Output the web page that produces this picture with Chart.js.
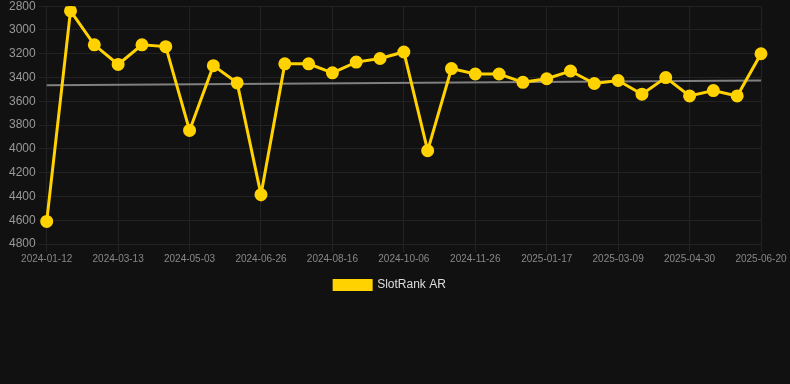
<!DOCTYPE html>
<html>
<head>
<meta charset="utf-8">
<script src="https://cdn.jsdelivr.net/npm/chart.js@4/dist/chart.umd.min.js"></script>
<style>
  html, body { margin: 0; padding: 0; background: #111111; overflow: hidden; }
  #wrap { width: 790px; height: 305px; margin-top: -4px; }
</style>
</head>
<body>
<div id="wrap"><canvas id="rankChart"></canvas></div>
<script>
const dates = [
  "2024-01-12", "2024-02-01", "2024-02-21", "2024-03-13", "2024-03-30", "2024-04-16",
  "2024-05-03", "2024-05-21", "2024-06-08", "2024-06-26", "2024-07-13", "2024-07-30",
  "2024-08-16", "2024-09-02", "2024-09-19", "2024-10-06", "2024-10-23", "2024-11-09",
  "2024-11-26", "2024-12-13", "2024-12-30", "2025-01-17", "2025-02-03", "2025-02-20",
  "2025-03-09", "2025-03-26", "2025-04-13", "2025-04-30", "2025-05-17", "2025-06-03",
  "2025-06-20"
];
const rankAR = [
  4610, 2840, 3125, 3290, 3125, 3140, 3845, 3300, 3445, 4385, 3285, 3285,
  3360, 3270, 3240, 3185, 4015, 3325, 3370, 3370, 3440, 3410, 3345, 3450,
  3425, 3540, 3400, 3555, 3510, 3555, 3200
];
const trendStart = 3464;
const trendEnd = 3424;
const yTicks = { min: 2800, max: 4800, step: 200 };

const trend = dates.map(function (d, i) {
  if (i === 0) return trendStart;
  if (i === dates.length - 1) return trendEnd;
  return null;
});

const ctx = document.getElementById("rankChart");

new Chart(ctx, {
  type: "line",
  data: {
    labels: dates,
    datasets: [
      {
        label: "SlotRank AR",
        data: rankAR,
        borderColor: "#ffd200",
        backgroundColor: "#ffd200",
        borderWidth: 3,
        pointRadius: 5,
        pointHoverRadius: 6,
        tension: 0,
      },
      {
        label: "trend",
        data: trend,
        borderColor: "#808080",
        borderWidth: 2,
        pointRadius: 0,
        spanGaps: true,
      },
    ],
  },
  options: {
    responsive: true,
    maintainAspectRatio: false,
    animation: false,
    layout: { padding: { left: 6, right: 16, top: 0, bottom: 0 } },
    plugins: {
      legend: {
        position: "bottom",
        labels: {
          color: "#dddddd",
          font: { family: "Liberation Sans, Arial", size: 12 },
          boxWidth: 37,
          boxHeight: 9,
          padding: 13,
          filter: function (item) { return item.text !== "trend"; },
        },
      },
      tooltip: { enabled: false },
    },
    scales: {
      x: {
        afterFit: function (scale) {
          scale.paddingRight = 29;
        },
        ticks: {
          color: "#888888",
          padding: 1,
          font: { family: "Liberation Sans, Arial", size: 10 },
          autoSkip: false,
          maxRotation: 0,
          callback: function (value, index) {
            return index % 3 === 0 ? this.getLabelForValue(value) : "";
          },
        },
        grid: {
          color: function (c) {
            return c.index % 3 === 0 ? "#222222" : "transparent";
          },
        },
        border: { color: "#222222" },
      },
      y: {
        reverse: true,
        min: yTicks.min,
        max: yTicks.max,
        ticks: {
          stepSize: yTicks.step,
          color: "#999999",
          font: { family: "Liberation Sans, Arial", size: 12 },
          callback: function (value) { return String(value); },
        },
        grid: { color: "#222222" },
        border: { color: "#222222" },
      },
    },
  },
});
</script>
</body>
</html>
